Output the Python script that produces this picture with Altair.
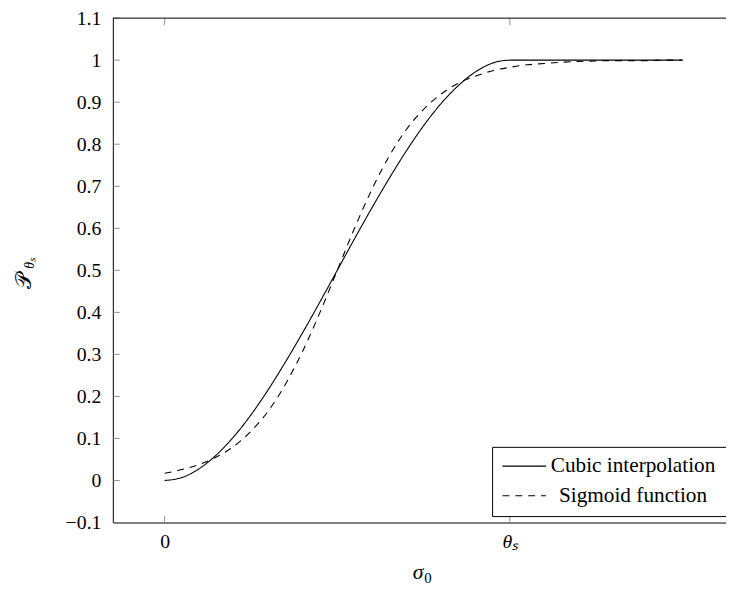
import altair as alt
import pandas as pd

# ---- data ----
xs = [0.0, 0.05, 0.1, 0.15, 0.2, 0.25, 0.3, 0.35, 0.4, 0.45, 0.5, 0.55, 0.6, 0.65,
      0.7, 0.75, 0.8, 0.85, 0.9, 0.95, 1.0, 1.05, 1.1, 1.15, 1.2, 1.25, 1.3, 1.35,
      1.4, 1.45, 1.5]
cubic = [0.0, 0.007, 0.028, 0.061, 0.104, 0.156, 0.216, 0.282, 0.352, 0.425, 0.5,
         0.575, 0.648, 0.718, 0.784, 0.844, 0.896, 0.939, 0.972, 0.993, 1.0, 1.0,
         1.0, 1.0, 1.0, 1.0, 1.0, 1.0, 1.0, 1.0, 1.0]
sigmoid = [0.017, 0.026, 0.038, 0.056, 0.081, 0.117, 0.165, 0.229, 0.308, 0.400,
           0.500, 0.600, 0.692, 0.771, 0.835, 0.883, 0.919, 0.945, 0.962, 0.975,
           0.983, 0.989, 0.992, 0.995, 0.997, 0.998, 0.999, 0.999, 0.999, 1.0, 1.0]
series_names = ["Cubic interpolation", "Sigmoid function"]
ytick_values = [-0.1, 0.0, 0.1, 0.2, 0.3, 0.4, 0.5, 0.6, 0.7, 0.8, 0.9, 1.0, 1.1]
xtick_values = [0.0, 1.0]
xtick_labels = ["0", "θₛ"]
x_title_main = "σ"
x_title_sub = "0"
y_title_main = "𝒫"
y_title_sub = "θₛ"
x_domain = [-0.15, 1.626]
y_domain = [-0.1, 1.1]

# ---- layout / style ----
W, H = 620, 510
FONT = "Liberation Serif"
TICK = 7

n = len(xs)
df = pd.DataFrame({
    "x": xs + xs,
    "y": cubic + sigmoid,
    "series": [series_names[0]] * n + [series_names[1]] * n,
})

xscale = alt.Scale(domain=x_domain, nice=False, zero=False)
yscale = alt.Scale(domain=y_domain, nice=False, zero=False)

x_label_expr = "datum.value == 0 ? '%s' : '%s'" % (xtick_labels[0], xtick_labels[1])
y_label_expr = "datum.value < 0 ? '\u2212' + format(-datum.value, '.1~f') : format(datum.value, '.1~f')"

x_axis = alt.Axis(
    values=xtick_values, labelExpr=x_label_expr, grid=False, ticks=False,
    labelPadding=9, labelFont=FONT, labelFontSize=20, labelColor="black",
    labelFontStyle={"condition": {"test": "datum.value == 1", "value": "italic"}, "value": "normal"},
    domainColor="black", domainWidth=1, title="")
y_axis = alt.Axis(
    values=ytick_values, labelExpr=y_label_expr, grid=False, ticks=False,
    labelPadding=12, labelFont=FONT, labelFontSize=20, labelColor="black",
    domainColor="black", domainWidth=1, title="")

lines = alt.Chart(df).mark_line(color="black", strokeWidth=1.1, interpolate="monotone").encode(
    x=alt.X("x:Q", scale=xscale, axis=x_axis),
    y=alt.Y("y:Q", scale=yscale, axis=y_axis),
    strokeDash=alt.StrokeDash("series:N", scale=alt.Scale(domain=series_names, range=[[1, 0], [7, 6]]), legend=None),
    detail="series:N",
)

one = alt.Data(values=[{"a": 1}])

ytick_df = pd.DataFrame({"y": ytick_values})
xtick_df = pd.DataFrame({"x": xtick_values})

yticks = alt.Chart(ytick_df).mark_rule(color="#777", strokeWidth=0.8).encode(
    y=alt.Y("y:Q", scale=yscale, axis=y_axis), x=alt.value(0), x2=alt.value(TICK))
xticks_bottom = alt.Chart(xtick_df).mark_rule(color="#777", strokeWidth=0.8).encode(
    x=alt.X("x:Q", scale=xscale, axis=x_axis), y=alt.value(H), y2=alt.value(H - TICK))
xticks_top = alt.Chart(xtick_df).mark_rule(color="#777", strokeWidth=0.8).encode(
    x=alt.X("x:Q", scale=xscale, axis=x_axis), y=alt.value(0), y2=alt.value(TICK))

top_border = alt.Chart(one).mark_rule(color="black", strokeWidth=1).encode(
    x=alt.value(0), x2=alt.value(W), y=alt.value(0))

# legend box (manual, pgfplots style)
legend_box = alt.Chart(one).mark_rect(fill="white", stroke="black", strokeWidth=1).encode(
    x=alt.value(384), x2=alt.value(720), y=alt.value(434), y2=alt.value(504))
leg_solid = alt.Chart(one).mark_rule(color="black", strokeWidth=1.1).encode(
    x=alt.value(394), x2=alt.value(438), y=alt.value(453))
leg_dash = alt.Chart(one).mark_rule(color="black", strokeWidth=1.1, strokeDash=[7, 6]).encode(
    x=alt.value(394), x2=alt.value(438), y=alt.value(483))
leg_t1 = alt.Chart(one).mark_text(font=FONT, fontSize=21.5, align="center", baseline="middle", color="black").encode(
    x=alt.value(526), y=alt.value(453), text=alt.value(series_names[0]))
leg_t2 = alt.Chart(one).mark_text(font=FONT, fontSize=21.5, align="center", baseline="middle", color="black").encode(
    x=alt.value(526), y=alt.value(483), text=alt.value(series_names[1]))

# y-axis title with subscript
yt_main = alt.Chart(one).mark_text(font="DejaVu Serif", fontSize=22, angle=270, align="center",
                                   baseline="middle", color="black").encode(
    x=alt.value(-90), y=alt.value(266), text=alt.value(y_title_main))
yt_sub = alt.Chart(one).mark_text(font=FONT, fontSize=14, fontStyle="italic", angle=270, align="center",
                                  baseline="middle", color="black").encode(
    x=alt.value(-84), y=alt.value(248), text=alt.value(y_title_sub))

# x-axis title sigma_0
xt_main = alt.Chart(one).mark_text(font=FONT, fontSize=22, fontStyle="italic", align="right",
                                   baseline="alphabetic", color="black").encode(
    x=alt.value(314), y=alt.value(H + 57), text=alt.value(x_title_main))
xt_sub = alt.Chart(one).mark_text(font=FONT, fontSize=15, align="left",
                                  baseline="alphabetic", color="black").encode(
    x=alt.value(315), y=alt.value(H + 61), text=alt.value(x_title_sub))

chart = alt.layer(
    lines, yticks, xticks_bottom, xticks_top, top_border,
    legend_box, leg_solid, leg_dash, leg_t1, leg_t2, yt_main, yt_sub, xt_main, xt_sub,
).properties(
    width=W, height=H,
    autosize=alt.AutoSizeParams(type="none"),
    padding={"left": 106, "top": 7, "right": 0, "bottom": 66},
).configure_view(stroke=None)

chart.save("out.html", embed_options={"renderer": "svg", "actions": False})
